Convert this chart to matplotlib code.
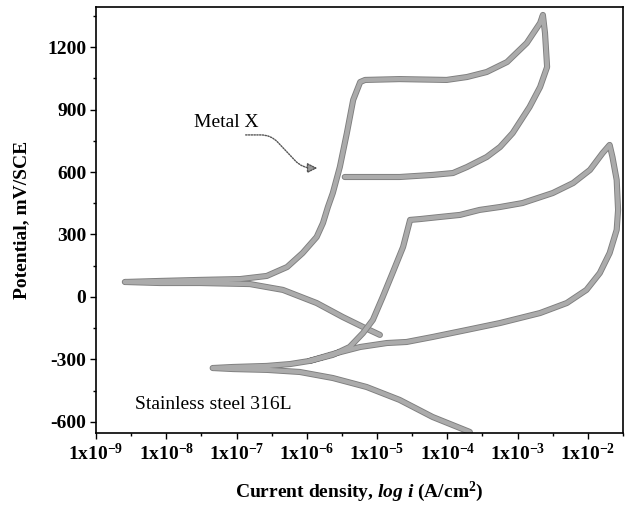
#!/usr/bin/env python3
#
# Cyclic polarization curves: Metal X vs stainless steel 316L

import numpy as np
import matplotlib
matplotlib.use("Agg")
import matplotlib.pyplot as plt
import matplotlib.patheffects as pe
from matplotlib.ticker import FixedLocator, NullFormatter

# 
# data (log10 of current density, potential in mV/SCE)

metal_x_log_i = [-4.96, -5.20, -5.49, -5.86, -6.34, -6.81, -7.52, -8.09, -8.59,
                 -8.09, -7.52, -6.95, -6.57, -6.28, -6.06, -5.86, -5.77, -5.70,
                 -5.63, -5.53, -5.43, -5.34, -5.24, -5.17,
                 -4.68, -4.01, -3.72, -3.44, -3.15, -2.87, -2.68, -2.64,
                 -2.61, -2.58, -2.68, -2.83, -3.07, -3.25, -3.44, -3.72, -3.92,
                 -4.21, -4.68, -5.46]
metal_x_mv = [-182, -144, -96, -29, 34, 62, 67, 67, 72,
              77, 82, 86, 101, 144, 211, 288, 355, 432,
              499, 624, 787, 946, 1032, 1042,
              1046, 1042, 1056, 1080, 1128, 1219, 1315, 1354,
              1267, 1104, 1008, 912, 787, 720, 672, 624, 595,
              586, 576, 576]

ss316l_log_i = [-3.68, -4.21, -4.68, -5.15, -5.63, -6.10, -6.57, -7.05, -7.34,
                -7.05, -6.57, -6.24, -5.96, -5.63, -5.39, -5.20, -5.06, -4.92,
                -4.78, -4.63, -4.53,
                -4.39, -4.11, -3.82, -3.54, -3.25, -2.93, -2.50, -2.21, -1.97,
                -1.79, -1.69,
                -1.65, -1.59, -1.57, -1.59, -1.69, -1.83, -2.02, -2.30, -2.68,
                -3.25, -3.72, -4.21, -4.58, -4.86, -5.24, -5.63, -5.96]
ss316l_mv = [-648, -576, -494, -432, -389, -360, -350, -346, -341,
             -336, -331, -322, -307, -278, -240, -173, -110, 0,
             115, 240, 370,
             374, 384, 394, 418, 432, 451, 499, 547, 610,
             691, 730,
             672, 562, 418, 322, 211, 115, 34, -29, -77,
             -125, -158, -192, -216, -221, -240, -274, -307]

y_ticks = [-600, -300, 0, 300, 600, 900, 1200]
x_decades = [-9, -8, -7, -6, -5, -4, -3, -2]

plt.rcParams['font.family'] = ['Liberation Serif', 'DejaVu Serif']
plt.rcParams['mathtext.fontset'] = 'custom'
plt.rcParams['mathtext.rm'] = 'Liberation Serif'
plt.rcParams['mathtext.it'] = 'Liberation Serif:italic'
plt.rcParams['mathtext.bf'] = 'Liberation Serif:bold'
plt.rcParams['mathtext.bfit'] = 'Liberation Serif:bold:italic'
plt.rcParams['axes.unicode_minus'] = False

fig = plt.figure(figsize=(6.33, 5.09), dpi=100)
ax = fig.add_axes([0.1517, 0.1493, 0.8325, 0.8369])

outline = [pe.Stroke(linewidth=4.4, foreground='#7e7e7e'), pe.Normal()]
for log_i, mv in [(metal_x_log_i, metal_x_mv), (ss316l_log_i, ss316l_mv)]:
    ax.plot(10.0 ** np.array(log_i), mv, color='#ababab', lw=3.1,
            solid_capstyle='round', solid_joinstyle='round', path_effects=outline)

ax.set_xscale('log')
ax.set_xlim(1e-9, 10 ** -1.5)
ax.set_ylim(-653, 1392)

ax.xaxis.set_major_locator(FixedLocator([10.0 ** d for d in x_decades]))
ax.set_xticklabels(['1x10$^{\\mathregular{%d}}$' % d for d in x_decades])
ax.xaxis.set_minor_locator(FixedLocator([10.0 ** (d + 0.5) for d in x_decades]))
ax.xaxis.set_minor_formatter(NullFormatter())
ax.set_yticks(y_ticks)
ax.set_yticks([t + 150 for t in y_ticks], minor=True)

ax.tick_params(which='both', direction='out', top=False, right=False,
               labelsize=14, width=1.0, pad=3)
ax.tick_params(which='major', length=4)
ax.tick_params(which='minor', length=2.5)
for lab in ax.get_xticklabels() + ax.get_yticklabels():
    lab.set_fontweight('bold')
for s in ax.spines.values():
    s.set_linewidth(1.2)

ax.set_ylabel('Potential, mV/SCE', fontsize=14, fontweight='bold', labelpad=12)
ax.set_xlabel('Current density, $\\bfit{log\\ i}$ (A/cm$^{\\mathbf{2}}$)',
              fontsize=14, fontweight='bold', labelpad=11)

ax.text(10 ** -7.14, 840, 'Metal X', fontsize=14, ha='center', va='center')
ax.annotate('', xy=(10 ** -5.81, 619), xytext=(10 ** -6.91, 778),
            arrowprops=dict(arrowstyle='-|>,head_length=0.6,head_width=0.3',
                            connectionstyle='arc,angleA=0,angleB=180,armA=28,armB=18,rad=10',
                            linestyle=(0, (1, 1)), color='#555555', lw=1.0, fc='#9a9a9a'))
ax.text(10 ** -8.45, -518, 'Stainless steel 316L', fontsize=14, ha='left', va='center')

fig.savefig('out.png', dpi=100)
